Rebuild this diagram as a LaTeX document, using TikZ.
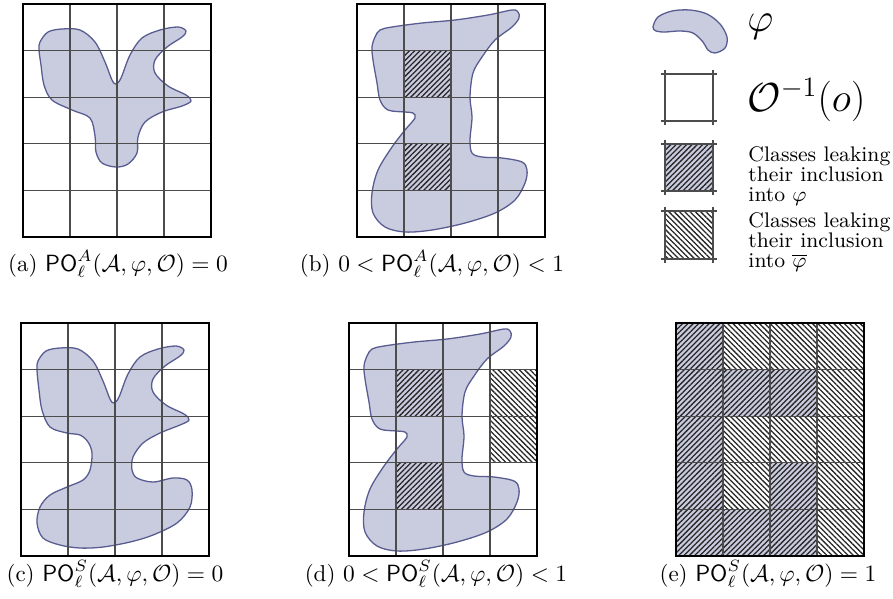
\documentclass[tikz,border=0pt]{standalone}
\usepackage{amsmath}
\usetikzlibrary{patterns.meta}
\definecolor{phifill}{RGB}{201,203,222}
\definecolor{phiedge}{RGB}{88,92,145}
\tikzset{blob/.style={fill=phifill, draw=phiedge, line width=0.55pt},
  gridln/.style={draw=black!70, line width=0.45pt},
  frame/.style={draw=black, line width=0.9pt},
  leakin/.style={preaction={fill=phifill}, pattern={Lines[angle=45,distance=1.6pt,line width=0.55pt]}, pattern color=black!85},
  leakout/.style={preaction={fill=white}, pattern={Lines[angle=-45,distance=1.6pt,line width=0.55pt]}, pattern color=black!85},
  capt/.style={font=\fontsize{9.8}{12}\selectfont},
  legtext/.style={font=\fontsize{9}{8.6}\selectfont, align=left, anchor=west, inner sep=0pt}}
% grid of one panel, top left corner at (#1,#2)
\newcommand\ogrid[2]{%
  \foreach \i in {1,2,3}{\draw[gridln] ({#1+\i*47},#2) -- ++(0,233);}
  \foreach \j in {1,...,4}{\draw[gridln] (#1,{#2+\j*46.6}) -- ++(188,0);}
  \draw[frame] (#1,#2) rectangle ++(188,233);}
% one class of the grid: panel corner, column, row, style
\newcommand\hcell[5]{\fill[#5] ({#1+(#3-1)*47},{#2+(#4-1)*46.6}) rectangle ++(47,46.6);}
\newcommand\blobB{\draw[blob] plot[smooth cycle, tension=0.55] coordinates {(375,37) (380,30) (392,27) (422,23) (455,20) (488,15) (512,10) (518,12) (519,18) (512,27) (495,40) (482,57) (473,73) (470,97) (472,117) (470,140) (472,153) (482,157) (502,158) (522,162) (527,170) (525,183) (515,200) (495,213) (465,223) (432,230) (405,232) (385,227) (373,213) (372,193) (378,170) (392,147) (405,130) (415,118) (413,113) (405,112) (388,110) (380,100) (377,83) (373,60) (372,47)};}

\begin{document}
\begin{tikzpicture}[x=0.15mm, y=-0.15mm]
  \useasboundingbox (0,0) rectangle (893,598);
  % (a)
  \draw[blob] plot[smooth cycle, tension=0.55] coordinates {(40,42) (48,32) (62,29) (80,30) (95,42) (105,62) (112,80) (116,84) (121,78) (130,55) (142,38) (160,30) (178,27) (186,31) (182,37) (167,47) (155,60) (155,73) (168,86) (186,95) (191,101) (182,106) (162,112) (145,122) (138,137) (137,153) (128,164) (116,167) (102,163) (96,152) (95,136) (90,118) (72,110) (52,100) (44,85) (41,65) (39,50)};
  \ogrid{23}{4}
  \node[capt] (capa) at (118,264) {(a) $\mathsf{PO}^{A}_{\ell}(\mathcal{A},\varphi,\mathcal{O}) = 0$};
  % (b)
  \blobB
  \foreach \r in {2,4}{\hcell{357}{4}{2}{\r}{leakin}}
  \ogrid{357}{4}
  \node[capt] (capb) at (432,264) {(b) $0 < \mathsf{PO}^{A}_{\ell}(\mathcal{A},\varphi,\mathcal{O}) < 1$};
  % (c)
  \draw[blob] plot[smooth cycle, tension=0.55] coordinates {(38,361) (46,351) (60,348) (78,349) (93,361) (103,381) (110,399) (114,403) (119,397) (128,374) (140,357) (158,349) (176,346) (184,350) (180,356) (165,366) (153,379) (153,392) (166,405) (184,414) (189,420) (180,425) (160,433) (143,443) (133,457) (132,470) (137,478) (153,482) (173,478) (187,480) (192,490) (190,507) (177,523) (153,535) (130,542) (103,547) (80,548) (60,545) (43,538) (37,523) (40,507) (50,495) (67,487) (83,480) (90,470) (92,453) (88,442) (80,435) (67,433) (50,427) (42,410) (39,390) (37,370)};
  \ogrid{21}{323}
  \node[capt] (capc) at (115,574) {(c) $\mathsf{PO}^{S}_{\ell}(\mathcal{A},\varphi,\mathcal{O}) = 0$};
  % (d)
  \begin{scope}[shift={(-8,319)}]
    \blobB
  \end{scope}
  \foreach \r in {2,4}{\hcell{349}{323}{2}{\r}{leakin}}
  \foreach \r in {2,3}{\hcell{349}{323}{4}{\r}{leakout}}
  \ogrid{349}{323}
  \node[capt] (capd) at (436,574) {(d) $0 < \mathsf{PO}^{S}_{\ell}(\mathcal{A},\varphi,\mathcal{O}) < 1$};
  % (e)
  \foreach \c/\r in {1/1,1/2,2/2,3/2,1/3,1/4,3/4,1/5,2/5,3/5}{\hcell{676}{323}{\c}{\r}{leakin}}
  \foreach \c/\r in {2/1,3/1,4/1,4/2,2/3,3/3,4/3,2/4,4/4,4/5}{\hcell{676}{323}{\c}{\r}{leakout}}
  \ogrid{676}{323}
  \node[capt] (cape) at (768,574) {(e) $\mathsf{PO}^{S}_{\ell}(\mathcal{A},\varphi,\mathcal{O}) = 1$};
  % legend
  \draw[blob] plot[smooth cycle, tension=0.55] coordinates {(653,27) (658,17) (672,11) (690,10) (707,14) (720,24) (727,37) (725,48) (715,53) (708,50) (703,42) (693,33) (680,31) (665,32) (656,31)};
  \node[anchor=west, inner sep=0pt, font=\LARGE] (phi) at (747,27) {$\varphi$};
  \fill[leakin] (665,144) rectangle (713,191);
  \fill[leakout] (665,211) rectangle (713,259);
  \foreach \y/\h in {74/47, 144/47, 211/48}{
    \draw[gridln] (661,\y) -- (717,\y);
    \draw[gridln] (661,\y+\h) -- (717,\y+\h);
    \draw[gridln] (665,\y-4) -- (665,\y+\h+4);
    \draw[gridln] (713,\y-4) -- (713,\y+\h+4);}
  \node[anchor=west, inner sep=0pt, font=\LARGE] (preim) at (747,100) {$\mathcal{O}^{-1}(o)$};
  \node[legtext] (leakphi) at (748,176) {Classes leaking\\their inclusion\\into $\varphi$};
  \node[legtext] (leakbar) at (748,242) {Classes leaking\\their inclusion\\into $\overline{\varphi}$};
\end{tikzpicture}
\end{document}
